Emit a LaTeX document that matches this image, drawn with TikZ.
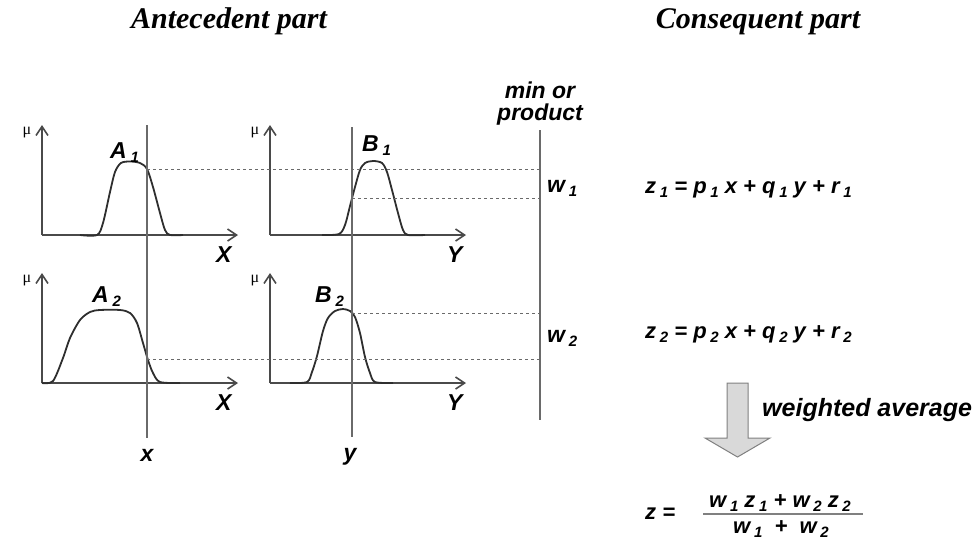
\documentclass[tikz,border=0pt]{standalone}
\usepackage{fontspec}
\setmainfont{Liberation Serif}
\setsansfont{Liberation Sans}
\usetikzlibrary{arrows.meta}
\definecolor{curvegray}{HTML}{2e2e2e}
\definecolor{axisgray}{HTML}{4a4a4a}
\definecolor{cutgray}{HTML}{6a6a6a}
\definecolor{arrowfill}{HTML}{d9d9d9}
\newcommand{\sbs}[1]{\,\raisebox{-4pt}{\fontsize{15}{15}\selectfont #1}}

\begin{document}
\begin{tikzpicture}[
    x=1pt, y=-1pt,
    title/.style={font=\fontsize{30}{34}\selectfont\bfseries\itshape, inner sep=0pt},
    lbl/.style={font=\fontsize{23}{26}\selectfont\sffamily\bfseries\itshape, inner sep=0pt},
    eqn/.style={font=\fontsize{22}{25}\selectfont\sffamily\bfseries\itshape, inner sep=0pt},
    mu/.style={font=\fontsize{16}{16}\selectfont, inner sep=0pt},
    axis/.style={draw=axisgray, line width=1.6pt, -{Straight Barb[length=9pt,width=12pt]}},
    mf/.style={draw=curvegray, line width=1.8pt, smooth, tension=0.5},
    cut/.style={draw=cutgray, line width=1.3pt},
    level/.style={draw=cutgray, line width=1pt, dash pattern=on 3pt off 3pt}
]
\useasboundingbox (0,0) rectangle (974,542);

% headings
\node[title, anchor=base] (antec) at (229,28) {Antecedent part};
\node[title, anchor=base] (conseq) at (758,28) {Consequent part};

% axes of the four membership plots
\foreach \ox/\oy [count=\i] in {42/235, 270/235, 42/383, 270/383} {
  \draw[axis] (\ox,\oy) -- ++(196,0);
  \draw[axis] (\ox,\oy) -- ++(0,-110);
  \node[mu] (mu\i) at (\ox-15,\oy-102) {μ};
}
\node[lbl, anchor=base west] (xax1) at (216,262) {X};
\node[lbl, anchor=base west] (yax1) at (447,262) {Y};
\node[lbl, anchor=base west] (xax2) at (216,410) {X};
\node[lbl, anchor=base west] (yax2) at (447,410) {Y};

% membership functions
\draw[mf] plot coordinates {(80,235) (97,235) (103,223) (110,192) (115,172) (121,163)
  (130,161.5) (140,163) (147,169) (153,187) (160,213) (165,230) (170,235) (183,235)};
\draw[mf] plot coordinates {(42,383) (53,381) (63,358) (70,338) (80,320) (90,312)
  (100,310) (120,310) (130,313) (137,323) (143,343) (148,360) (153,373) (160,382) (180,383)};
\draw[mf] plot coordinates {(322,235) (339,234) (345,225) (350,206) (355,187) (360,170)
  (365,163) (373,161) (382,163) (387,172) (392,190) (398,213) (403,230) (408,235) (425,235)};
\draw[mf] plot coordinates {(290,383) (307,382) (312,372) (317,356) (323,331) (328,318)
  (335,311) (343,309) (350,311) (355,317) (360,333) (365,357) (370,373) (375,382) (393,383)};
\node[lbl, anchor=base west] (aone) at (110,158) {A\sbs{1}};
\node[lbl, anchor=base west] (atwo) at (92,302) {A\sbs{2}};
\node[lbl, anchor=base west] (bone) at (362,151) {B\sbs{1}};
\node[lbl, anchor=base west] (btwo) at (315,302) {B\sbs{2}};

% crisp inputs
\coordinate (xtop) at (147,125);
\coordinate (xbot) at (147,438);
\coordinate (ytop) at (352,127);
\coordinate (ybot) at (352,437);
\draw[cut] (xtop) -- (xbot);
\draw[cut] (ytop) -- (ybot);
\node[lbl, anchor=base] (xin) at (147,461) {x};
\node[lbl, anchor=base] (yin) at (350,460) {y};

% firing strengths
\coordinate (mintop) at (540,130);
\coordinate (minbot) at (540,420);
\draw[cut] (mintop) -- (minbot);
\node[lbl, align=center, font=\fontsize{23}{22}\selectfont\sffamily\bfseries\itshape,
  anchor=base] (minop) at (540,120) {min or\\product};
\coordinate (a1cut) at (147,169);
\coordinate (b1cut) at (352,198);
\coordinate (a2cut) at (147,359);
\coordinate (b2cut) at (352,313);
\draw[level] (a1cut) -- (a1cut -| mintop);
\draw[level] (b1cut) -- (b1cut -| mintop);
\draw[level] (a2cut) -- (a2cut -| mintop);
\draw[level] (b2cut) -- (b2cut -| mintop);
\node[lbl, anchor=base west] (wone) at (547,192) {w\sbs{1}};
\node[lbl, anchor=base west] (wtwo) at (547,342) {w\sbs{2}};

% consequents
\node[eqn, anchor=base west] (zone) at (645,193)
  {z\sbs{1} = p\sbs{1} x + q\sbs{1} y + r\sbs{1}};
\node[eqn, anchor=base west] (ztwo) at (645,338)
  {z\sbs{2} = p\sbs{2} x + q\sbs{2} y + r\sbs{2}};

% weighted average
\draw[draw=gray, fill=arrowfill, line width=1pt] (727,383) -- (748,383) -- (748,438)
  -- (770,438) -- (737.5,457) -- (705,438) -- (727,438) -- cycle;
\node[lbl, font=\fontsize{25}{28}\selectfont\sffamily\bfseries\itshape,
  anchor=base west] (wavg) at (762,416) {weighted average};
\node[eqn, anchor=base west] (zout) at (645,519) {z =};
\node[eqn, anchor=base] (num) at (780,507) {w\sbs{1} z\sbs{1} + w\sbs{2} z\sbs{2}};
\node[eqn, anchor=base] (den) at (781,533) {w\sbs{1} \ + \ w\sbs{2}};
\draw[draw=gray, line width=2.5pt] (703,514) -- (863,514);
\end{tikzpicture}
\end{document}
